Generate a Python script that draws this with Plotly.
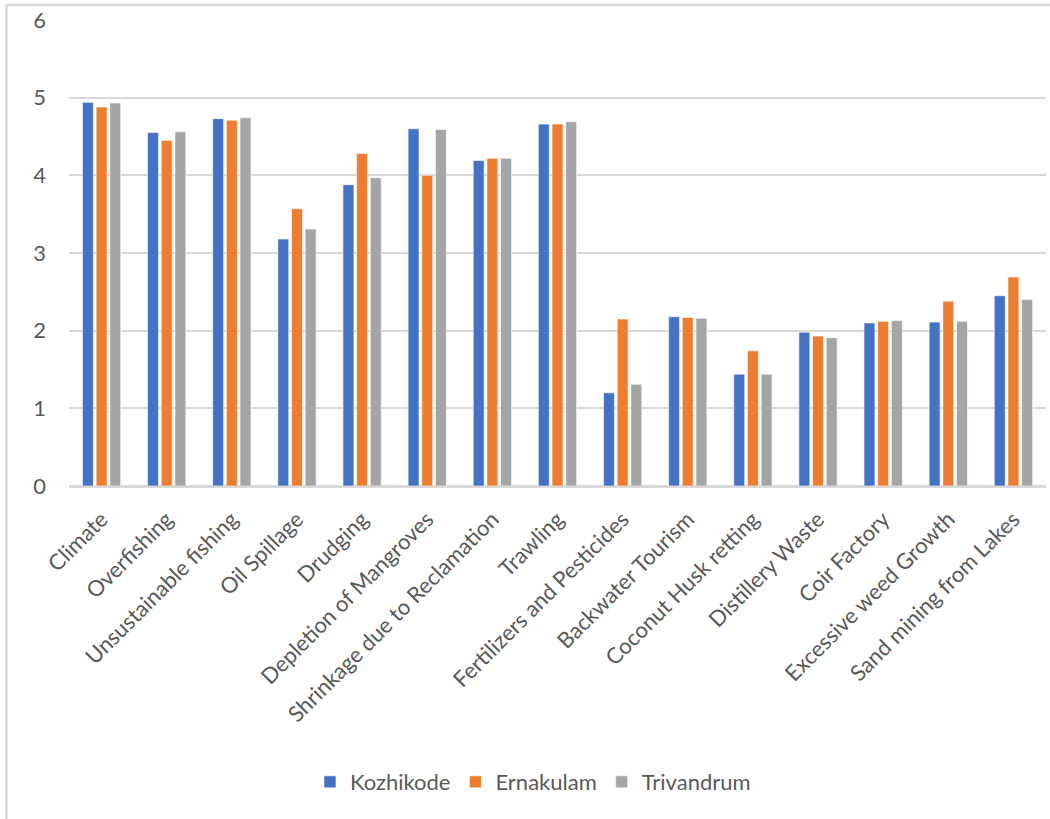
import plotly.graph_objects as go

categories = [
    "Climate", "Overfishing", "Unsustainable fishing", "Oil Spillage", "Drudging",
    "Depletion of Mangroves", "Shrinkage due to Reclamation", "Trawling",
    "Fertilizers and Pesticides", "Backwater Tourism", "Coconut Husk retting",
    "Distillery Waste", "Coir Factory", "Excessive weed Growth", "Sand mining from Lakes",
]
kozhikode = [4.94, 4.55, 4.73, 3.18, 3.88, 4.60, 4.19, 4.66, 1.20, 2.18, 1.44, 1.98, 2.10, 2.11, 2.45]
ernakulam = [4.88, 4.45, 4.71, 3.57, 4.28, 4.00, 4.22, 4.66, 2.15, 2.17, 1.74, 1.93, 2.12, 2.38, 2.69]
trivandrum = [4.93, 4.56, 4.74, 3.31, 3.97, 4.59, 4.22, 4.69, 1.31, 2.16, 1.44, 1.91, 2.13, 2.12, 2.40]
y_ticks = [0, 1, 2, 3, 4, 5, 6]

series = [
    ("Kozhikode", kozhikode, "#4472C4"),
    ("Ernakulam", ernakulam, "#ED7D31"),
    ("Trivandrum", trivandrum, "#A5A5A5"),
]

FONT = "Lato"
FS = 22
TEXT = "#595959"
GRID = "#D9D9D9"

fig = go.Figure()
for name, vals, color in series:
    fig.add_trace(go.Bar(
        x=categories, y=vals, name=name,
        marker=dict(color=color, line=dict(color="white", width=0.6)),
    ))

W, H = 1050, 819
L, R, T, B = 69, 4, 20, 333
pw, ph = W - L - R, H - T - B

def px_x(px):
    return (px - L) / pw

def px_y(py):
    return (H - B - py) / ph

fig.update_layout(
    width=W, height=H,
    margin=dict(l=L, r=R, t=T, b=B, autoexpand=False),
    paper_bgcolor="white", plot_bgcolor="white",
    barmode="group", bargap=0.37, bargroupgap=0.2,
    font=dict(family=FONT, color=TEXT, size=FS),
    legend=dict(
        orientation="h", x=px_x(533), xanchor="center", y=px_y(782), yanchor="middle",
        font=dict(family=FONT, size=FS, color=TEXT), itemwidth=30,
        traceorder="normal",
    ),
    xaxis=dict(
        tickangle=-45, showgrid=False, showline=True, linecolor=GRID, linewidth=1.5,
        ticks="", ticklabelstandoff=10, tickfont=dict(family=FONT, size=FS, color=TEXT),
    ),
    yaxis=dict(
        range=[0, 6], tickvals=y_ticks, showgrid=True, gridcolor=GRID, gridwidth=1.5,
        zeroline=True, zerolinecolor=GRID, zerolinewidth=1.5, showline=False,
        ticks="", ticklabelstandoff=22, tickfont=dict(family=FONT, size=FS, color=TEXT),
    ),
    shapes=[
        dict(type="line", xref="paper", yref="paper", x0=px_x(6.5), x1=px_x(6.5),
             y0=px_y(5), y1=px_y(830), line=dict(color=GRID, width=2.5)),
        dict(type="line", xref="paper", yref="paper", x0=px_x(6.5), x1=px_x(1060),
             y0=px_y(5), y1=px_y(5), line=dict(color=GRID, width=2.5)),
    ],
)

fig.write_html("out.html")
